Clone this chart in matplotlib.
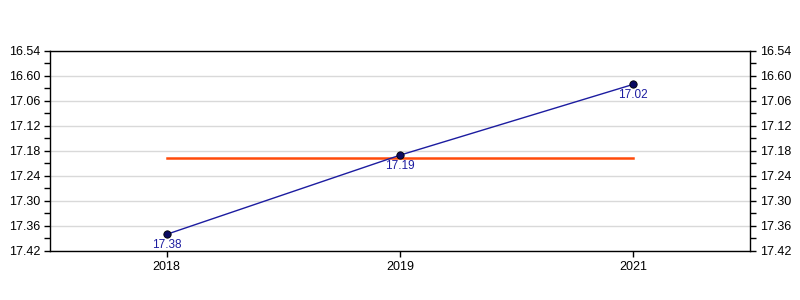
import matplotlib
matplotlib.use("Agg")
import matplotlib.pyplot as plt
from matplotlib.ticker import FixedLocator, FixedFormatter

plt.rcParams['font.family'] = ['Liberation Sans', 'DejaVu Sans']

years = ["2018", "2019", "2021"]
times = ["17.38", "17.19", "17.02"]   # minutes.seconds
tick_labels = ["16.54", "16.60", "17.06", "17.12", "17.18", "17.24", "17.30", "17.36", "17.42"]


def to_sec(s):
    m, sec = s.split(".")
    return int(m) * 60 + int(sec)


vals = [to_sec(t) for t in times]
ticks = [to_sec(t) for t in tick_labels]
mean_val = sum(vals) / len(vals)

fig = plt.figure(figsize=(8, 3), dpi=100)
ax = fig.add_axes([50 / 800, 49 / 300, 700 / 800, 200 / 300])

x = list(range(len(years)))
ax.plot([x[0], x[-1]], [mean_val, mean_val], color="#ff4a0a", lw=1.8, zorder=2)
ax.plot(x, vals, color="#1c1ca0", lw=1, zorder=3)
ax.scatter(x, vals, s=28, color="#0a0a60", edgecolors="black", linewidths=0.6, zorder=4)
for xi, v, t in zip(x, vals, times):
    ax.annotate(t, (xi, v), xytext=(0, -3.5), textcoords="offset points",
                ha="center", va="top", fontsize=8.5, color="#1c1ca0")

ax.set_xlim(-0.5, len(years) - 0.5)
ax.set_xticks(x)
ax.set_xticklabels(years)
ax.set_ylim(ticks[-1], ticks[0])
ax.yaxis.set_major_locator(FixedLocator(ticks))
ax.yaxis.set_major_formatter(FixedFormatter(tick_labels))
minor = [(a + b) / 2 for a, b in zip(ticks[:-1], ticks[1:])]
ax.yaxis.set_minor_locator(FixedLocator(minor))
ax.grid(axis="y", which="major", color="#d9d9d9", lw=1, zorder=0)
ax.set_axisbelow(True)

ax.tick_params(axis="both", which="major", length=4, width=1, labelsize=9, color="black", labelcolor="black")
ax.tick_params(axis="y", which="minor", length=4, width=1)
ax.tick_params(axis="y", which="both", left=True, right=True, labelleft=True, labelright=True)
ax.tick_params(axis="x", which="both", pad=3)
ax.tick_params(axis="y", which="both", pad=3)
for s in ax.spines.values():
    s.set_color("black")
    s.set_linewidth(1)

fig.savefig("out.png", dpi=100)
